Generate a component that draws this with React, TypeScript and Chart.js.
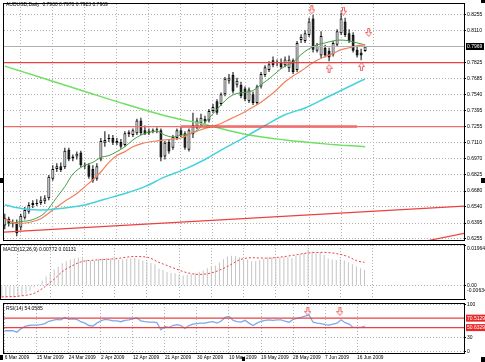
import React, { useEffect, useRef } from 'react';
import { Chart, registerables } from 'chart.js';

Chart.register(...registerables);

// ---------------- data ----------------
const titleText = 'AUDUSD,Daily  0.7930 0.7970 0.7923 0.7969';
const macdTitle = 'MACD(12,26,9) 0.00772 0.01131';
const rsiTitle = 'RSI(14) 54.0585';

const dateTickIdx = [0, 8, 16, 24, 32, 40, 48, 56, 64, 72, 80, 88];
const dateLabels = ['6 Mar 2009', '15 Mar 2009', '24 Mar 2009', '2 Apr 2009', '12 Apr 2009', '21 Apr 2009', '30 Apr 2009', '10 May 2009', '19 May 2009', '28 May 2009', '7 Jun 2009', '16 Jun 2009'];

const openP = [0.6374, 0.6434, 0.6391, 0.6400, 0.6356, 0.6443, 0.6495, 0.6556, 0.6573, 0.6573,
  0.6590, 0.6616, 0.6789, 0.6876, 0.6902, 0.6893, 0.7049, 0.6971, 0.6988, 0.7023,
  0.6910, 0.6910, 0.6876, 0.6789, 0.6962, 0.7110, 0.7144, 0.7153, 0.7110, 0.7118,
  0.7092, 0.7187, 0.7179, 0.7196, 0.7309, 0.7222, 0.7196, 0.7213, 0.7222, 0.7222,
  0.6988, 0.7118, 0.7066, 0.7153, 0.7222, 0.7196, 0.7049, 0.7187, 0.7248, 0.7283,
  0.7326, 0.7309, 0.7395, 0.7482, 0.7456, 0.7543, 0.7664, 0.7716, 0.7629, 0.7629,
  0.7595, 0.7482, 0.7543, 0.7465, 0.7612, 0.7716, 0.7759, 0.7846, 0.7820, 0.7828,
  0.7802, 0.7776, 0.7846, 0.7759, 0.8027, 0.8019, 0.8071, 0.8218, 0.7932, 0.7889,
  0.7958, 0.7932, 0.7897, 0.7984, 0.8088, 0.8192, 0.8088, 0.8071, 0.7941, 0.7915, 0.7930];
const highP = [0.6478, 0.6452, 0.6426, 0.6426, 0.6478, 0.6538, 0.6581, 0.6599, 0.6608, 0.6633,
  0.6642, 0.6824, 0.6910, 0.6928, 0.6936, 0.7066, 0.7066, 0.7006, 0.7032, 0.7040,
  0.6936, 0.6928, 0.6910, 0.6928, 0.7153, 0.7213, 0.7187, 0.7179, 0.7153, 0.7144,
  0.7213, 0.7222, 0.7239, 0.7326, 0.7335, 0.7265, 0.7239, 0.7239, 0.7248, 0.7239,
  0.7127, 0.7144, 0.7179, 0.7239, 0.7248, 0.7213, 0.7239, 0.7378, 0.7335, 0.7369,
  0.7352, 0.7413, 0.7456, 0.7499, 0.7560, 0.7698, 0.7724, 0.7742, 0.7690, 0.7655,
  0.7612, 0.7603, 0.7568, 0.7629, 0.7742, 0.7802, 0.7837, 0.7880, 0.7854, 0.7863,
  0.7880, 0.7889, 0.7863, 0.8019, 0.8079, 0.8114, 0.8226, 0.8252, 0.8001, 0.8105,
  0.7984, 0.7958, 0.8019, 0.8122, 0.8270, 0.8226, 0.8122, 0.8097, 0.7967, 0.7949, 0.7970];
const lowP = [0.6339, 0.6365, 0.6356, 0.6278, 0.6330, 0.6426, 0.6478, 0.6530, 0.6547, 0.6556,
  0.6564, 0.6599, 0.6772, 0.6850, 0.6850, 0.6876, 0.6945, 0.6945, 0.6962, 0.6893,
  0.6876, 0.6789, 0.6755, 0.6772, 0.6945, 0.7075, 0.7118, 0.7092, 0.7092, 0.7058,
  0.7075, 0.7162, 0.7162, 0.7179, 0.7179, 0.7179, 0.7179, 0.7196, 0.7196, 0.6945,
  0.6962, 0.7014, 0.7049, 0.7136, 0.7162, 0.7049, 0.7032, 0.7153, 0.7231, 0.7265,
  0.7283, 0.7291, 0.7378, 0.7361, 0.7439, 0.7525, 0.7638, 0.7551, 0.7603, 0.7508,
  0.7482, 0.7465, 0.7447, 0.7447, 0.7595, 0.7698, 0.7742, 0.7785, 0.7794, 0.7768,
  0.7785, 0.7742, 0.7724, 0.7742, 0.8001, 0.8001, 0.8053, 0.7915, 0.7915, 0.7863,
  0.7871, 0.7837, 0.7880, 0.7967, 0.8071, 0.8053, 0.8001, 0.7915, 0.7871, 0.7846, 0.7923];
const closeP = [0.6443, 0.6391, 0.6400, 0.6304, 0.6460, 0.6512, 0.6556, 0.6573, 0.6564, 0.6599,
  0.6616, 0.6807, 0.6876, 0.6902, 0.6867, 0.7040, 0.6962, 0.6988, 0.7014, 0.6910,
  0.6902, 0.6807, 0.6772, 0.6902, 0.7127, 0.7136, 0.7153, 0.7110, 0.7127, 0.7075,
  0.7196, 0.7205, 0.7222, 0.7309, 0.7196, 0.7187, 0.7213, 0.7222, 0.7231, 0.6980,
  0.7110, 0.7032, 0.7162, 0.7222, 0.7179, 0.7066, 0.7222, 0.7265, 0.7309, 0.7335,
  0.7300, 0.7395, 0.7430, 0.7378, 0.7543, 0.7681, 0.7690, 0.7568, 0.7664, 0.7525,
  0.7499, 0.7586, 0.7465, 0.7612, 0.7724, 0.7785, 0.7811, 0.7802, 0.7828, 0.7785,
  0.7854, 0.7854, 0.7742, 0.8001, 0.8053, 0.8088, 0.8192, 0.7941, 0.7975, 0.8062,
  0.7889, 0.7871, 0.8001, 0.8105, 0.8218, 0.8071, 0.8019, 0.7932, 0.7889, 0.7889, 0.7969];

// moving averages (bar index, price)
const fastMaIdx = [1, 4, 7, 10, 13, 15, 17, 20, 22, 24, 26, 28, 30, 32, 34, 36, 38, 40, 42, 44, 46, 48, 50, 52, 54, 56, 58, 60, 62, 64, 66, 68, 70, 72, 74, 76, 78, 80, 82, 84, 86, 88, 90];
const fastMaVal = [0.6391, 0.6408, 0.6426, 0.6486, 0.6625, 0.6720, 0.6832, 0.6910, 0.6936, 0.6980, 0.6997, 0.7032, 0.7075, 0.7136, 0.7179, 0.7205, 0.7213, 0.7179, 0.7162, 0.7179, 0.7187, 0.7222, 0.7291, 0.7369, 0.7447, 0.7516, 0.7551, 0.7560, 0.7577, 0.7629, 0.7681, 0.7742, 0.7794, 0.7828, 0.7897, 0.7949, 0.7984, 0.8001, 0.8019, 0.8027, 0.8019, 0.8001, 0.7984];
const midMaIdx = [0, 3, 6, 9, 12, 15, 18, 20, 22, 24, 26, 28, 30, 32, 34, 36, 38, 40, 42, 44, 46, 48, 50, 52, 54, 56, 58, 60, 62, 64, 66, 68, 70, 72, 74, 76, 78, 80, 82, 84, 86, 88, 90];
const midMaVal = [0.6434, 0.6391, 0.6400, 0.6434, 0.6512, 0.6590, 0.6659, 0.6720, 0.6781, 0.6850, 0.6936, 0.6997, 0.7032, 0.7075, 0.7101, 0.7118, 0.7127, 0.7136, 0.7144, 0.7153, 0.7187, 0.7213, 0.7239, 0.7257, 0.7283, 0.7317, 0.7352, 0.7387, 0.7430, 0.7473, 0.7525, 0.7586, 0.7655, 0.7707, 0.7750, 0.7802, 0.7846, 0.7880, 0.7906, 0.7941, 0.7958, 0.7975, 0.7984];
const slowMaIdx = [0, 5, 10, 15, 20, 25, 30, 35, 40, 45, 50, 55, 60, 65, 70, 75, 80, 85, 90];
const slowMaVal = [0.6556, 0.6521, 0.6512, 0.6530, 0.6556, 0.6608, 0.6659, 0.6720, 0.6807, 0.6876, 0.6962, 0.7066, 0.7162, 0.7265, 0.7361, 0.7421, 0.7508, 0.7595, 0.7681];
const longMaIdx = [0, 10, 20, 30, 40, 50, 60, 70, 80, 90];
const longMaVal = [0.7794, 0.7681, 0.7568, 0.7456, 0.7352, 0.7274, 0.7187, 0.7136, 0.7101, 0.7075];

const priceTicks = [0.8255, 0.8110, 0.7825, 0.7685, 0.7540, 0.7395, 0.7255, 0.7110, 0.6970, 0.6825, 0.6680, 0.6540, 0.6395, 0.6255];
const priceMin = 0.6244;
const priceMax = 0.8348;
const bidPrice = 0.7969;
const hLevels = [0.7825, 0.7255];
const levelSegIdx = [44, 88];
const levelSegPrice = 0.7255;
const trend1Idx = [-1, 116];
const trend1Val = [0.6312, 0.6549];
const trend2Idx = [104, 116];
const trend2Val = [0.6226, 0.6313];

const fracUpIdx = [76.7, 84.6, 90.9];
const fracUpVal = [0.8296, 0.8285, 0.8094];
const fracDnIdx = [81, 89.1];
const fracDnVal = [0.7774, 0.7790];

const macdHist = [-0.0058, -0.0058, -0.0056, -0.0057, -0.0054, -0.0047, -0.0037, -0.0024, -0.0008, 0.0008,
  0.0025, 0.0045, 0.0060, 0.0078, 0.0092, 0.0108, 0.0118, 0.0126, 0.0132, 0.0135,
  0.0132, 0.0126, 0.0121, 0.0121, 0.0128, 0.0132, 0.0134, 0.0132, 0.0130, 0.0126,
  0.0128, 0.0130, 0.0132, 0.0134, 0.0128, 0.0122, 0.0116, 0.0110, 0.0104, 0.0082,
  0.0076, 0.0066, 0.0062, 0.0060, 0.0056, 0.0050, 0.0052, 0.0056, 0.0062, 0.0068,
  0.0074, 0.0084, 0.0095, 0.0098, 0.0112, 0.0128, 0.0140, 0.0145, 0.0142, 0.0136,
  0.0128, 0.0125, 0.0118, 0.0118, 0.0124, 0.0130, 0.0136, 0.0138, 0.0138, 0.0136,
  0.0138, 0.0138, 0.0135, 0.0146, 0.0152, 0.0160, 0.0172, 0.0166, 0.0162, 0.0162,
  0.0148, 0.0132, 0.0126, 0.0124, 0.0128, 0.0122, 0.0114, 0.0104, 0.0094, 0.0085, 0.0077];
const macdSigIdx = [0, 4, 8, 10, 13, 15, 18, 20, 24, 28, 33, 36, 39, 43, 46, 49, 52, 56, 59, 62, 66, 69, 72, 76, 79, 82, 86, 88, 90];
const macdSigVal = [-0.0053, -0.0050, -0.0036, -0.0014, 0.0032, 0.0068, 0.0102, 0.0117, 0.0125, 0.0130, 0.0141, 0.0138, 0.0113, 0.0083, 0.0063, 0.0055, 0.0062, 0.0093, 0.0125, 0.0135, 0.0133, 0.0138, 0.0146, 0.0158, 0.0161, 0.0158, 0.0140, 0.0121, 0.0113];
const macdTickVals = [0.01964, 0, -0.00634];
const macdTickLabels = ['0.01964', '0.00', '-0.00634'];

const rsiVals = [44, 44, 44, 41, 48, 53, 55, 56, 56, 57,
  59, 64, 66, 68, 67, 72, 68, 69, 68, 63,
  60, 55, 54, 60, 65, 68, 67, 65, 65, 63,
  66, 67, 69, 71, 65, 63, 62, 62, 61, 46,
  53, 51, 55, 57, 55, 49, 55, 58, 59, 60,
  60, 62, 63, 60, 64, 72, 74, 66, 63, 62,
  66, 60, 55, 60, 64, 66, 67, 66, 67, 67,
  64, 62, 68, 70, 72, 75, 77, 62, 60, 59,
  57, 56, 58, 60, 67, 61, 58, 51, 51, 51, 54];
const rsiLevels = [70.5129, 50.6329];
const rsiTicks = [100, 30, 0];
const rsiArrowIdx = [75.7, 83.7];
const rsiArrowVal = [84.5, 84.5];

// ---------------- styling ----------------
const X_MIN = -0.2;
const X_MAX = 114.7;
const FONT_FAMILY = '"Liberation Sans", Arial, sans-serif';
const FONT_SIZE = 5;
const DATE_FONT_SIZE = 4.8;
const GRID = '#b4b4b4';
const RED = 'rgb(238,64,64)';

const idx = closeP.map((_, i) => i);
const pts = (xs: number[], ys: number[]) => xs.map((x, i) => ({ x, y: ys[i] }));
const flat = (xs: number[], v: number) => xs.map((x) => ({ x, y: v }));

function makeArrow(down: boolean) {
  const c = document.createElement('canvas');
  c.width = 7;
  c.height = 9;
  const g = c.getContext('2d')!;
  g.beginPath();
  if (down) {
    g.moveTo(2.5, 0.5); g.lineTo(4.5, 0.5); g.lineTo(4.5, 4.5); g.lineTo(6.5, 4.5);
    g.lineTo(3.5, 8.5); g.lineTo(0.5, 4.5); g.lineTo(2.5, 4.5);
  } else {
    g.moveTo(2.5, 8.5); g.lineTo(4.5, 8.5); g.lineTo(4.5, 4.5); g.lineTo(6.5, 4.5);
    g.lineTo(3.5, 0.5); g.lineTo(0.5, 4.5); g.lineTo(2.5, 4.5);
  }
  g.closePath();
  g.fillStyle = '#fff';
  g.fill();
  g.strokeStyle = 'rgb(240,100,100)';
  g.lineWidth = 1;
  g.stroke();
  return c;
}

function xScale(showLabels: boolean): any {
  return {
    type: 'linear',
    min: X_MIN,
    max: X_MAX,
    offset: false,
    afterBuildTicks: (s: any) => { s.ticks = dateTickIdx.map((v) => ({ value: v })); },
    afterFit: (s: any) => { s.height = showLabels ? 9 : 0; },
    grid: { color: GRID, lineWidth: 1, drawTicks: false },
    border: { display: false, dash: [1, 2] },
    ticks: showLabels
      ? { display: true, autoSkip: false, maxRotation: 0, minRotation: 0, align: 'start', padding: 2, color: '#000', font: { family: FONT_FAMILY, size: DATE_FONT_SIZE }, callback: (_v: any, i: number) => dateLabels[i] }
      : { display: false },
  };
}

function yScale(min: number, max: number, ticks: number[], fmt: ((v: number) => string) | null): any {
  return {
    type: 'linear',
    position: 'right',
    min,
    max,
    afterFit: (s: any) => { s.width = 21; },
    afterBuildTicks: (s: any) => { s.ticks = ticks.map((v) => ({ value: v })); },
    grid: { color: GRID, lineWidth: 1, drawTicks: true, tickLength: 2, tickColor: '#000' },
    border: { display: false, dash: [1, 2] },
    ticks: fmt
      ? { display: true, padding: 1, color: '#000', font: { family: FONT_FAMILY, size: FONT_SIZE }, callback: (v: any) => fmt(Number(v)) }
      : { display: false },
  };
}

const framePlugin = {
  id: 'frame',
  afterDraw(chart: any) {
    const { ctx, chartArea: a } = chart;
    ctx.save();
    ctx.strokeStyle = '#000';
    ctx.lineWidth = 1;
    ctx.strokeRect(a.left - 0.5, a.top - 0.5, a.right - a.left + 1, a.bottom - a.top + 1);
    ctx.restore();
  },
};

const baseOptions = (padding: any) => ({
  responsive: false,
  animation: false,
  devicePixelRatio: 1,
  events: [],
  layout: { padding },
  plugins: { legend: { display: false }, tooltip: { enabled: false }, title: { display: false } },
});

const lineDs = (data: any[], color: string, width: number, extra: any = {}) => ({
  type: 'line',
  data,
  borderColor: color,
  borderWidth: width,
  pointRadius: 0,
  fill: false,
  order: 0,
  ...extra,
});

function mainConfig(): any {
  const upArrow = makeArrow(true);
  const dnArrow = makeArrow(false);
  const smooth = { cubicInterpolationMode: 'monotone' };
  return {
    type: 'bar',
    data: {
      datasets: [
        lineDs(flat([-1, 116], bidPrice), '#b0b0b0', 1),
        lineDs(flat([-1, 116], hLevels[0]), RED, 1.2),
        lineDs(flat([-1, 116], hLevels[1]), 'rgb(240,110,110)', 1.2),
        lineDs(flat(levelSegIdx, levelSegPrice), 'rgb(230,30,30)', 2),
        lineDs(pts(trend1Idx, trend1Val), RED, 1.2),
        lineDs(pts(trend2Idx, trend2Val), RED, 1.2),
        lineDs(pts(longMaIdx, longMaVal), 'rgb(110,225,100)', 1.5, smooth),
        lineDs(pts(slowMaIdx, slowMaVal), 'rgb(70,210,220)', 1.5, smooth),
        lineDs(pts(midMaIdx, midMaVal), 'rgb(240,128,90)', 1.2, smooth),
        lineDs(pts(fastMaIdx, fastMaVal), 'rgb(70,160,70)', 1, smooth),
        lineDs(pts(fracUpIdx, fracUpVal), '#000', 0, { showLine: false, pointRadius: 3, pointStyle: upArrow }),
        lineDs(pts(fracDnIdx, fracDnVal), '#000', 0, { showLine: false, pointRadius: 3, pointStyle: dnArrow }),
        {
          type: 'bar',
          data: idx.map((i) => ({ x: i, y: [openP[i], closeP[i]] })),
          backgroundColor: idx.map((i) => (closeP[i] >= openP[i] ? '#ffffff' : '#000000')),
          borderColor: '#000',
          borderWidth: 1,
          borderSkipped: false,
          barThickness: 3,
          minBarLength: 1,
          grouped: false,
          inflateAmount: 0,
          order: 1,
        },
        {
          type: 'bar',
          data: idx.map((i) => ({ x: i, y: [lowP[i], highP[i]] })),
          backgroundColor: '#000',
          borderWidth: 0,
          barThickness: 1,
          grouped: false,
          inflateAmount: 0,
          order: 2,
        },
      ],
    },
    options: {
      ...baseOptions({ left: 1, right: 0, top: 0, bottom: 1 }),
      scales: {
        x: xScale(false),
        y: yScale(priceMin, priceMax, priceTicks, (v) => v.toFixed(4)),
      },
    },
    plugins: [
      framePlugin,
      {
        id: 'mainText',
        afterDraw(chart: any) {
          const { ctx, chartArea: a } = chart;
          const s = chart.scales.y;
          ctx.save();
          ctx.font = `${FONT_SIZE}px ${FONT_FAMILY}`;
          ctx.textBaseline = 'middle';
          ctx.textAlign = 'left';
          ctx.fillStyle = '#000';
          ctx.fillText(titleText, a.left + 2, 4.5);
          const py = s.getPixelForValue(bidPrice);
          ctx.fillStyle = '#000';
          ctx.fillRect(a.right + 2, py - 3.5, 18, 7);
          ctx.fillStyle = '#fff';
          ctx.fillText(bidPrice.toFixed(4), a.right + 3, py);
          ctx.restore();
        },
      },
    ],
  };
}

function macdConfig(): any {
  return {
    type: 'bar',
    data: {
      datasets: [
        lineDs(pts(macdSigIdx, macdSigVal), RED, 1, { borderDash: [2, 2], cubicInterpolationMode: 'monotone' }),
        {
          type: 'bar',
          data: idx.map((i) => ({ x: i, y: macdHist[i] })),
          backgroundColor: '#c4c4c4',
          borderWidth: 0,
          barThickness: 1,
          grouped: false,
          inflateAmount: 0,
          order: 1,
        },
      ],
    },
    options: {
      ...baseOptions({ left: 1, right: 0, top: 1, bottom: 1 }),
      scales: {
        x: xScale(false),
        y: yScale(macdTickVals[2], macdTickVals[0], macdTickVals, null),
      },
    },
    plugins: [
      framePlugin,
      {
        id: 'macdText',
        afterDraw(chart: any) {
          const { ctx, chartArea: a } = chart;
          const s = chart.scales.y;
          ctx.save();
          ctx.font = `${FONT_SIZE}px ${FONT_FAMILY}`;
          ctx.textBaseline = 'middle';
          ctx.textAlign = 'left';
          ctx.fillStyle = '#000';
          ctx.fillText(macdTitle, a.left + 2, a.top + 4.5);
          macdTickVals.forEach((v, k) => {
            let py = s.getPixelForValue(v);
            py = Math.max(a.top + 4, Math.min(a.bottom - 8.5, py));
            ctx.fillText(macdTickLabels[k], a.right + 3, py);
          });
          ctx.restore();
        },
      },
    ],
  };
}

function rsiConfig(): any {
  const upArrow = makeArrow(true);
  return {
    type: 'line',
    data: {
      datasets: [
        lineDs(flat([-1, 116], rsiLevels[0]), RED, 1.3),
        lineDs(flat([-1, 116], rsiLevels[1]), RED, 1.3),
        lineDs(pts(idx, rsiVals), 'rgb(120,172,232)', 1.3),
        lineDs(pts(rsiArrowIdx, rsiArrowVal), '#000', 0, { showLine: false, pointRadius: 3, pointStyle: upArrow }),
      ],
    },
    options: {
      ...baseOptions({ left: 1, right: 0, top: 1, bottom: 0 }),
      scales: {
        x: xScale(true),
        y: yScale(-3, 100.4, rsiTicks, (v) => String(Math.round(v))),
      },
    },
    plugins: [
      framePlugin,
      {
        id: 'rsiText',
        afterDraw(chart: any) {
          const { ctx, chartArea: a } = chart;
          const s = chart.scales.y;
          ctx.save();
          ctx.font = `${FONT_SIZE}px ${FONT_FAMILY}`;
          ctx.textBaseline = 'middle';
          ctx.textAlign = 'left';
          ctx.fillStyle = '#000';
          ctx.fillText(rsiTitle, a.left + 2, a.top + 5);
          rsiLevels.forEach((v) => {
            const py = s.getPixelForValue(v);
            ctx.fillStyle = 'rgb(235,40,40)';
            ctx.fillRect(a.right + 2, py - 3.5, 19, 7);
            ctx.fillStyle = '#fff';
            ctx.fillText(v.toFixed(4), a.right + 3, py);
          });
          ctx.restore();
        },
      },
    ],
  };
}

function Panel(props: { top: number; height: number; make: () => any }) {
  const ref = useRef<HTMLCanvasElement | null>(null);
  useEffect(() => {
    const chart = new Chart(ref.current as HTMLCanvasElement, props.make());
    return () => chart.destroy();
  }, []);
  return (
    <canvas
      ref={ref}
      width={485}
      height={props.height}
      style={{ position: 'absolute', left: 0, top: props.top, width: 485, height: props.height, display: 'block' }}
    />
  );
}

const squares = [
  [0, 178, 4, 5], [481, 0, 4, 3], [481, 178, 4, 5], [481, 357, 4, 5], [0, 355, 3, 5], [242, 357, 3, 4],
];

export default function App() {
  return (
    <div style={{ position: 'fixed', left: 0, top: 0, width: 485, height: 362, background: '#fff', overflow: 'hidden' }}>
      <Panel top={0} height={244} make={mainConfig} />
      <Panel top={244} height={56} make={macdConfig} />
      <Panel top={300} height={62} make={rsiConfig} />
      {squares.map((s, k) => (
        <div key={k} style={{ position: 'absolute', left: s[0], top: s[1], width: s[2], height: s[3], background: '#000' }} />
      ))}
    </div>
  );
}
